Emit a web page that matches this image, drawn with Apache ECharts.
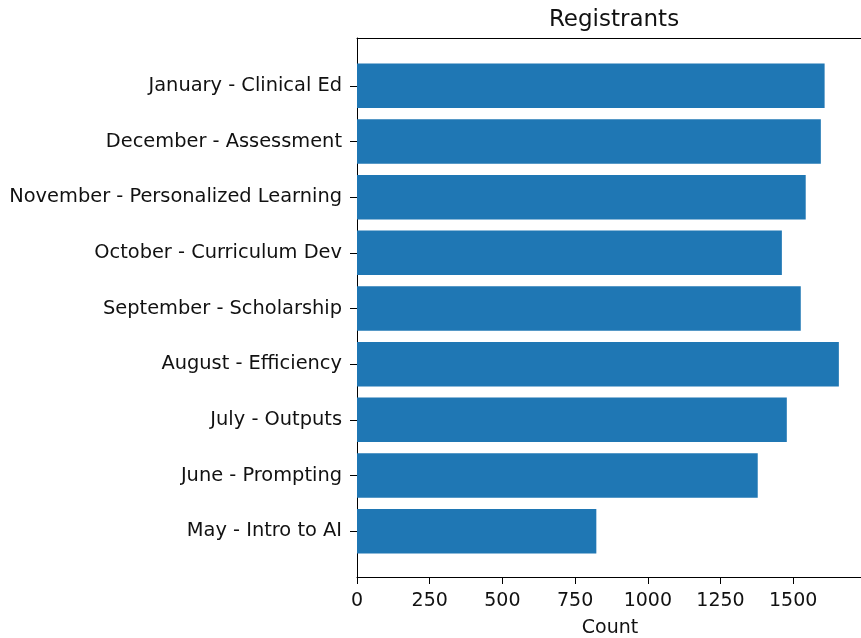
<!DOCTYPE html>
<html>
<head>
<meta charset="utf-8">
<script src="https://cdn.jsdelivr.net/npm/echarts@6/dist/echarts.min.js"></script>
<style>
  html, body { margin: 0; padding: 0; background: #fff; }
  #chart { width: 861px; height: 638px; }
</style>
</head>
<body>
<div id="chart"></div>
<script>
// categories, bottom to top (matplotlib barh order)
var categories = [
    'May - Intro to AI',
    'June - Prompting',
    'July - Outputs',
    'August - Efficiency',
    'September - Scholarship',
    'October - Curriculum Dev',
    'November - Personalized Learning',
    'December - Assessment',
    'January - Clinical Ed'
];
var counts = [823, 1378, 1478, 1657, 1526, 1461, 1543, 1595, 1608];
var xTicks = [0, 250, 500, 750, 1000, 1250, 1500];

var font = 'DejaVu Sans';
var xMax = 1740;

var chart = echarts.init(document.getElementById('chart'));

var option = {
    animation: false,
    backgroundColor: '#ffffff',
    textStyle: {fontFamily: font},
    title: {
        text: 'Registrants',
        left: 609,
        textAlign: 'center',
        top: 4,
        textStyle: {fontFamily: font, fontSize: 23, fontWeight: 'normal', color: '#111'}
    },
    grid: [
        // frame grid: spines + x ticks
        {left: 357, top: 38, width: 506, height: 539, outerBoundsMode: 'none', containLabel: false},
        // bars grid: inner category band area
        {left: 357, top: 58, width: 506, height: 501, outerBoundsMode: 'none', containLabel: false}
    ],
    xAxis: [
        {
            type: 'value', gridIndex: 0, min: 0, max: xMax, interval: 250,
            name: 'Count', nameLocation: 'middle', nameGap: 42,
            nameTextStyle: {fontFamily: font, fontSize: 19, color: '#111'},
            axisLine: {show: true, lineStyle: {color: '#000', width: 1}},
            axisTick: {show: true, length: 7, lineStyle: {color: '#000'}},
            axisLabel: {
                fontFamily: font, fontSize: 19, color: '#111', margin: 15,
                showMaxLabel: false,
                formatter: function (v) { return xTicks.indexOf(v) >= 0 ? String(v) : ''; }
            },
            splitLine: {show: false}
        },
        {
            type: 'value', gridIndex: 1, min: 0, max: xMax, show: false
        },
        {
            type: 'value', gridIndex: 0, position: 'top', min: 0, max: xMax,
            axisLine: {show: true, onZero: false, lineStyle: {color: '#000', width: 1}},
            axisTick: {show: false}, axisLabel: {show: false}, splitLine: {show: false}
        }
    ],
    yAxis: [
        {
            type: 'value', gridIndex: 0, min: 0, max: 1,
            axisLine: {show: true, lineStyle: {color: '#000', width: 1}},
            axisTick: {show: false}, axisLabel: {show: false}, splitLine: {show: false}
        },
        {
            type: 'category', gridIndex: 1, data: categories,
            axisLine: {show: false},
            axisTick: {show: true, alignWithLabel: true, length: 7, lineStyle: {color: '#000'}},
            axisLabel: {fontFamily: font, fontSize: 19.4, color: '#111', margin: 15},
            splitLine: {show: false}
        }
    ],
    series: [{
        type: 'bar',
        xAxisIndex: 1,
        yAxisIndex: 1,
        data: counts,
        barWidth: '80%',
        itemStyle: {color: '#1f77b4'}
    }]
};

chart.setOption(option);
</script>
</body>
</html>
